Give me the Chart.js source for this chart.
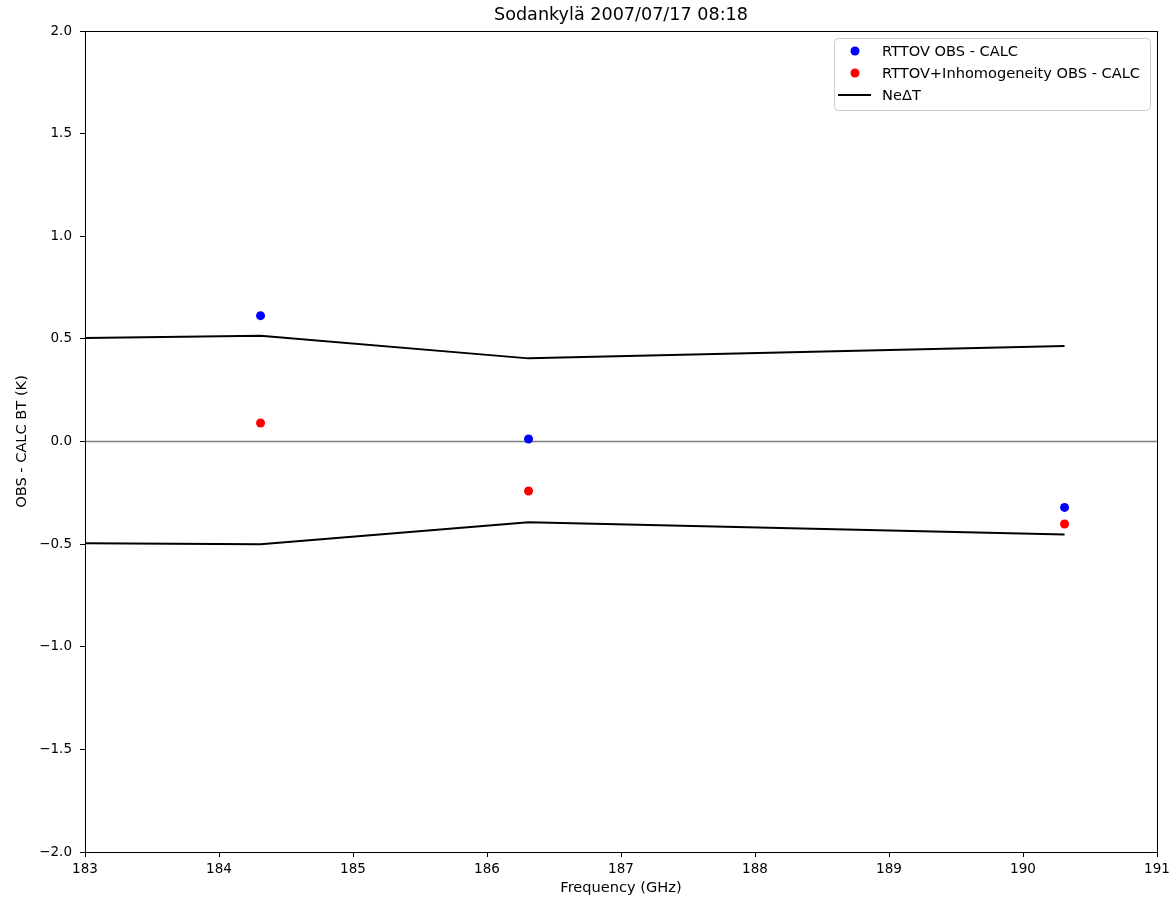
<!DOCTYPE html>
<html>
<head>
<meta charset="utf-8">
<script src="https://cdn.jsdelivr.net/npm/chart.js@4"></script>
<style>
    body { margin: 0; background: #ffffff; }
</style>
</head>
<body>
<canvas id="graph" width="1174" height="897"></canvas>
<script>
// channel frequencies (GHz) and OBS - CALC departures (K)
const frequencies = [184.31, 186.31, 190.31];
const rttovDiff = [0.613, 0.012, -0.321];
const inhomDiff = [0.090, -0.241, -0.402];

// instrument noise envelope, upper and lower
const nedtFreq = [183, 184.31, 186.31, 190.31];
const nedtUpper = [0.504, 0.515, 0.405, 0.465];
const nedtLower = [-0.496, -0.501, -0.394, -0.453];

const xTicks = [183, 184, 185, 186, 187, 188, 189, 190, 191];
const yTicks = [-2.0, -1.5, -1.0, -0.5, 0.0, 0.5, 1.0, 1.5, 2.0];

const titleText = 'Sodankylä 2007/07/17 08:18';

Chart.defaults.font.family = "'DejaVu Sans', sans-serif";
Chart.defaults.color = '#000000';

const points = (xs, ys) => xs.map((x, i) => ({x: x, y: ys[i]}));

/**
 * Closes the box round the plot area, writes the title and draws the legend
 */
const frame = {
    id: 'frame',
    afterDatasetsDraw(chart)
    {
        const ctx = chart.ctx;
        const a = chart.chartArea;
        ctx.save();
        ctx.strokeStyle = '#000000';
        ctx.lineWidth = 1;
        ctx.strokeRect(a.left + 0.5, a.top + 0.5, a.right - a.left, a.bottom - a.top);
        ctx.restore();
    },
    afterDraw(chart)
    {
        const ctx = chart.ctx;
        const a = chart.chartArea;

        ctx.save();
        // title centred over the axes
        ctx.font = "17.6px 'DejaVu Sans'";
        ctx.fillStyle = '#000000';
        ctx.textAlign = 'center';
        ctx.textBaseline = 'middle';
        ctx.fillText(titleText, (a.left + a.right) / 2, 15);

        // legend box in the upper right corner
        const items = chart.data.datasets.filter(d => d.inLegend);
        const w = 316, h = 72;
        const bx = a.right - 7 - w, by = a.top + 7;

        ctx.beginPath();
        ctx.roundRect(bx + 0.5, by + 0.5, w, h, 4);
        ctx.fillStyle = 'rgba(255,255,255,0.8)';
        ctx.fill();
        ctx.strokeStyle = '#cccccc';
        ctx.lineWidth = 1;
        ctx.stroke();

        ctx.font = "14.6px 'DejaVu Sans'";
        ctx.textAlign = 'left';
        items.forEach((d, i) => {
            const y = by + 13 + i * 22;
            if (d.showLine) {
                ctx.beginPath();
                ctx.moveTo(bx + 4, y);
                ctx.lineTo(bx + 37, y);
                ctx.strokeStyle = d.borderColor;
                ctx.lineWidth = 2;
                ctx.stroke();
            } else {
                ctx.beginPath();
                ctx.arc(bx + 21, y, 4.5, 0, Math.PI * 2);
                ctx.fillStyle = d.backgroundColor;
                ctx.fill();
            }
            ctx.fillStyle = '#000000';
            ctx.fillText(d.label, bx + 48, y + 1);
        });
        ctx.restore();
    }
};

new Chart(document.querySelector('#graph'),
{
    type: 'scatter',
    data:
    {
        datasets:
        [
            {
                label: 'RTTOV OBS - CALC',
                data: points(frequencies, rttovDiff),
                backgroundColor: '#0000ff',
                borderColor: '#0000ff',
                pointRadius: 4.5,
                borderWidth: 0,
                inLegend: true,
                order: 1
            },
            {
                label: 'RTTOV+Inhomogeneity OBS - CALC',
                data: points(frequencies, inhomDiff),
                backgroundColor: '#ff0000',
                borderColor: '#ff0000',
                pointRadius: 4.5,
                borderWidth: 0,
                inLegend: true,
                order: 1
            },
            {
                label: 'NeΔT',
                data: points(nedtFreq, nedtUpper),
                showLine: true,
                borderColor: '#000000',
                borderWidth: 2,
                pointRadius: 0,
                inLegend: true,
                order: 2
            },
            {
                label: '-NeΔT',
                data: points(nedtFreq, nedtLower),
                showLine: true,
                borderColor: '#000000',
                borderWidth: 2,
                pointRadius: 0,
                order: 2
            },
            {
                label: 'zero',
                data: points([183, 191], [0, 0]),
                showLine: true,
                borderColor: '#808080',
                borderWidth: 1.5,
                pointRadius: 0,
                order: 3
            }
        ]
    },
    options:
    {
        responsive: false,
        animation: false,
        layout: {padding: {top: 31, right: 17, bottom: 0, left: 0}},
        plugins:
        {
            legend: {display: false},
            tooltip: {enabled: false},
            title: {display: false}
        },
        scales:
        {
            x:
            {
                type: 'linear',
                min: 183,
                max: 191,
                afterBuildTicks: s => { s.ticks = xTicks.map(v => ({value: v})); },
                afterFit: s => { s.height = 45; },
                grid: {drawOnChartArea: false, tickLength: 5, tickColor: '#000000'},
                border: {color: '#000000', width: 1},
                ticks: {font: {size: 13.5}, color: '#000000', padding: 4, maxRotation: 0, callback: v => String(v)},
                title: {display: true, text: 'Frequency (GHz)', font: {size: 14.6}, color: '#000000', padding: {top: 0, bottom: 0}}
            },
            y:
            {
                min: -2,
                max: 2,
                afterBuildTicks: s => { s.ticks = yTicks.map(v => ({value: v})); },
                afterFit: s => { s.width = 85; },
                grid: {drawOnChartArea: false, tickLength: 5, tickColor: '#000000'},
                border: {color: '#000000', width: 1},
                ticks: {font: {size: 13.5}, color: '#000000', padding: 8, callback: v => v.toFixed(1).replace('-', '\u2212')},
                title: {display: true, text: 'OBS - CALC BT (K)', font: {size: 14.6}, color: '#000000', padding: {top: 13, bottom: 0}}
            }
        }
    },
    plugins: [frame]
});
</script>
</body>
</html>
